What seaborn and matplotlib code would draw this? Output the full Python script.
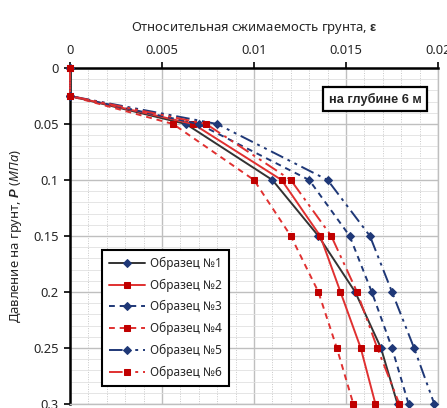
import numpy as np
import pandas as pd
import matplotlib
matplotlib.use("Agg")
import matplotlib.pyplot as plt
import seaborn as sns
from matplotlib.ticker import MultipleLocator

# ---- data ----
pressure = [0, 0.025, 0.05, 0.1, 0.15, 0.2, 0.25, 0.3]
s1 = [0, 0, 0.0063, 0.0110, 0.0135, 0.0155, 0.0169, 0.0178]
s2 = [0, 0, 0.0067, 0.0115, 0.0136, 0.0147, 0.0158, 0.0166]
s3 = [0, 0, 0.0070, 0.0130, 0.0152, 0.0164, 0.0175, 0.0184]
s4 = [0, 0, 0.0056, 0.0100, 0.0120, 0.0135, 0.0145, 0.0154]
s5 = [0, 0, 0.0080, 0.0140, 0.0163, 0.0175, 0.0187, 0.0198]
s6 = [0, 0, 0.0074, 0.0120, 0.0142, 0.0156, 0.0167, 0.0179]
names = ["Образец №1", "Образец №2", "Образец №3", "Образец №4", "Образец №5", "Образец №6"]
x_ticks = [0, 0.005, 0.01, 0.015, 0.02]
x_ticklabels = ["0", "0.005", "0.01", "0.015", "0.02"]
y_ticks = [0, 0.05, 0.1, 0.15, 0.2, 0.25, 0.3]
y_ticklabels = ["0", "0.05", "0.1", "0.15", "0.2", "0.25", "0.3"]

series = [s1, s2, s3, s4, s5, s6]

sns.set_style("white")
plt.rcParams['font.family'] = ['Noto Sans', 'DejaVu Sans']
plt.rcParams['mathtext.fontset'] = 'custom'
plt.rcParams['mathtext.rm'] = 'Noto Sans'
plt.rcParams['mathtext.it'] = 'Noto Sans:italic'
plt.rcParams['mathtext.bf'] = 'Liberation Sans:bold'
plt.rcParams['mathtext.bfit'] = 'Liberation Sans:italic:bold'

fig = plt.figure(figsize=(4.47, 4.08), dpi=100)
ax = fig.add_axes([70/447, 1-404/408, 368/447, 336/408])

red = "#E03030"
redm = "#C00000"
navy = "#1F3877"
dadd = (0, (7, 2.5, 1.5, 2.5, 1.5, 2.5))
styles = [
    dict(color="#333333", ls="-", marker="D", mfc=navy, mec=navy, ms=4.5),
    dict(color=red, ls="-", marker="s", mfc=redm, mec=redm, ms=5),
    dict(color=navy, ls=(0, (3, 2.5)), marker="D", mfc=navy, mec=navy, ms=4.5),
    dict(color=red, ls=(0, (3, 2.5)), marker="s", mfc=redm, mec=redm, ms=5),
    dict(color=navy, ls=dadd, marker="D", mfc=navy, mec=navy, ms=4.5),
    dict(color=red, ls=dadd, marker="s", mfc=redm, mec=redm, ms=5),
]

for name, vals, st in zip(names, series, styles):
    df = pd.DataFrame({"eps": vals, "p": pressure})
    sns.lineplot(data=df, x="eps", y="p", sort=False, estimator=None, ax=ax, label=name,
                 color=st["color"], linestyle=st["ls"], lw=1.4,
                 marker=st["marker"], markerfacecolor=st["mfc"],
                 markeredgecolor=st["mec"], markersize=st["ms"], clip_on=False,
                 zorder=3)

ax.set_xlim(0, 0.02)
ax.set_ylim(0.3, 0)
ax.xaxis.tick_top()
ax.xaxis.set_label_position("top")
ax.set_xticks(x_ticks)
ax.set_xticklabels(x_ticklabels)
ax.set_yticks(y_ticks)
ax.set_yticklabels(y_ticklabels)
ax.xaxis.set_minor_locator(MultipleLocator(0.001))
ax.yaxis.set_minor_locator(MultipleLocator(0.01))
ax.grid(which="major", color="#BFBFBF", lw=1.0, ls="-", zorder=0)
ax.grid(which="minor", axis="x", color="#C8C8C8", lw=0.7, ls=(0, (1, 1.5)), zorder=0)
ax.grid(which="minor", axis="y", color="#E0E0E0", lw=0.6, ls="-", zorder=0)
ax.set_axisbelow(True)
ax.tick_params(which="major", direction="out", length=4, width=1.2, color="black",
               labelsize=9.3, pad=4, top=True, left=True)
ax.tick_params(which="minor", length=0)

for side in ["top", "left"]:
    ax.spines[side].set_color("black")
    ax.spines[side].set_linewidth(1.8)
for side in ["right", "bottom"]:
    ax.spines[side].set_color("#BFBFBF")
    ax.spines[side].set_linewidth(1.0)

ax.set_xlabel("Относительная сжимаемость грунта, $\\mathbf{ε}$", fontsize=9.4, labelpad=9)
ax.set_ylabel("Давление на грунт, $\\mathbfit{P}$ $\\mathit{(МПа)}$", fontsize=9.4, labelpad=7)

ax.text(0.955, 0.907, "на глубине 6 м", transform=ax.transAxes, ha="right", va="center",
        fontsize=9.2, fontweight="bold", family=["Liberation Sans", "DejaVu Sans"],
        bbox=dict(boxstyle="square,pad=0.42", fc="white", ec="black", lw=1.6), zorder=5)

leg = ax.legend(loc="lower left", bbox_to_anchor=(0.087, 0.054), borderaxespad=0,
                fancybox=False, edgecolor="black", framealpha=1, fontsize=8.6,
                handlelength=3.0, labelspacing=0.72, borderpad=0.6, handletextpad=0.4)
leg.get_frame().set_linewidth(1.5)
leg.set_zorder(6)

fig.savefig("out.png", dpi=100)
